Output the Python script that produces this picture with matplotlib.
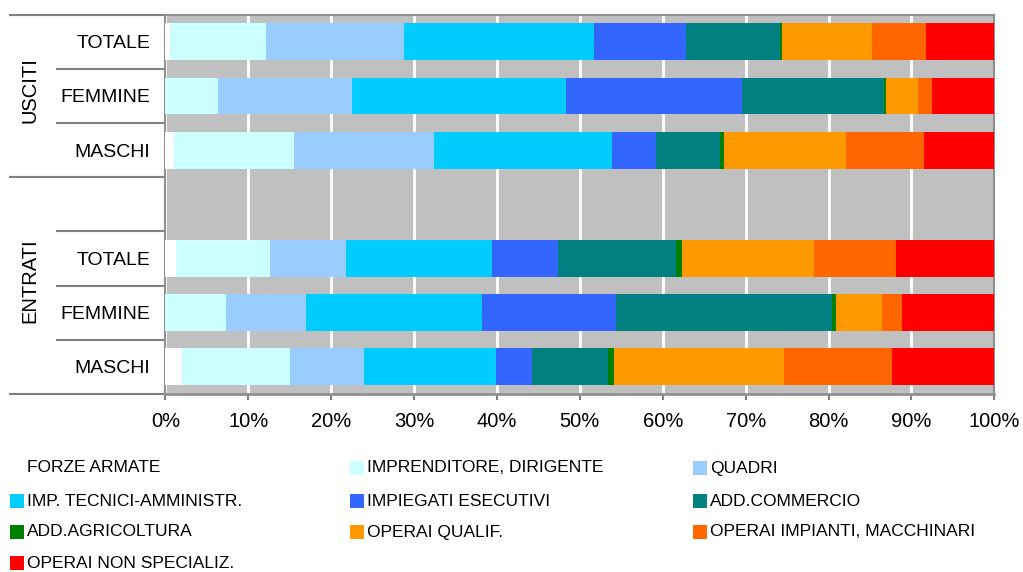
import numpy as np
import matplotlib.pyplot as plt
from matplotlib.patches import Rectangle
from matplotlib.transforms import blended_transform_factory

plt.rcParams['font.family'] = ['Liberation Sans', 'DejaVu Sans']

# rows from bottom to top; the blank row separates the two groups
rows = ["MASCHI", "FEMMINE", "TOTALE", "", "MASCHI", "FEMMINE", "TOTALE"]
groups = ["ENTRATI", "USCITI"]

professions = ["FORZE ARMATE", "IMPRENDITORE, DIRIGENTE", "QUADRI",
               "IMP. TECNICI-AMMINISTR.", "IMPIEGATI ESECUTIVI", "ADD.COMMERCIO",
               "ADD.AGRICOLTURA", "OPERAI QUALIF.", "OPERAI IMPIANTI, MACCHINARI",
               "OPERAI NON SPECIALIZ."]
colors = ["#FFFFFF", "#CCFFFF", "#99CCFF", "#00CCFF", "#3366FF", "#008080",
          "#008000", "#FF9900", "#FF6600", "#FF0000"]

# percentage shares per row (same order as professions)
entrati_maschi  = [2.0, 13.0, 9.0, 15.9, 4.3, 9.2, 0.7, 20.5, 13.0, 12.4]
entrati_femmine = [0.0, 7.3, 9.7, 21.2, 16.2, 26.0, 0.5, 5.5, 2.4, 11.2]
entrati_totale  = [1.3, 11.3, 9.2, 17.6, 8.0, 14.2, 0.7, 16.0, 9.8, 11.9]
usciti_maschi   = [1.0, 14.5, 16.9, 21.5, 5.3, 7.7, 0.5, 14.7, 9.4, 8.5]
usciti_femmine  = [0.0, 6.4, 16.1, 25.8, 21.3, 17.1, 0.2, 3.9, 1.7, 7.5]
usciti_totale   = [0.6, 11.6, 16.6, 22.9, 11.1, 11.3, 0.3, 10.8, 6.6, 8.2]

blank = [0.0] * len(professions)
table = np.array([entrati_maschi, entrati_femmine, entrati_totale, blank,
                  usciti_maschi, usciti_femmine, usciti_totale], dtype=float)
# normalise each row to 100%
sums = table.sum(axis=1, keepdims=True)
sums[sums == 0] = 1
shares = table / sums

fig = plt.figure(figsize=(10.23, 5.72), dpi=100)
ax = fig.add_axes([0.1616, 0.3112, 0.8104, 0.6631])
ax.set_facecolor("#C0C0C0")

y = np.arange(len(rows))
left = np.zeros(len(rows))
for j, name in enumerate(professions):
    ax.barh(y, shares[:, j], left=left, height=0.68, color=colors[j],
            linewidth=0, zorder=3)
    left += shares[:, j]

ax.set_xlim(0, 1)
ax.set_ylim(-0.5, len(rows) - 0.5)
ax.set_xticks(np.arange(0, 1.01, 0.1))
ax.set_xticklabels([f"{int(round(v * 100))}%" for v in np.arange(0, 1.01, 0.1)],
                   fontsize=14.5)
ax.set_yticks(y)
ax.set_yticklabels(rows, fontsize=14)
ax.tick_params(axis="x", direction="out", length=4, width=1.5,
               color="#808080", pad=9)
ax.tick_params(axis="y", length=0, pad=11)
ax.grid(axis="x", color="white", linewidth=2, zorder=1)
ax.set_axisbelow(True)
for side in ["left", "bottom", "top", "right"]:
    ax.spines[side].set_color("#909090")
    ax.spines[side].set_linewidth(1.5)
ax.spines["bottom"].set_linewidth(2)

# category separators to the left of the axis
trans = blended_transform_factory(ax.transAxes, ax.transData)
for b in np.arange(-0.5, len(rows), 1.0):
    outer = b in (-0.5, 3.5, len(rows) - 0.5)
    x0 = -0.187 if outer else -0.131
    ax.plot([x0, 0], [b, b], color="#808080", linewidth=1.5,
            transform=trans, clip_on=False)

# group labels
ax.text(-0.163, 1.6, groups[0], rotation=90, ha="center", va="center",
        fontsize=14.5, transform=trans)
ax.text(-0.163, 5.1, groups[1], rotation=90, ha="center", va="center",
        fontsize=14.5, transform=trans)

# legend laid out in three equal columns
W, H = 1023, 572
col_x = [10, 350, 693]
row_y = [468, 501, 532, 563]
for i, (name, c) in enumerate(zip(professions, colors)):
    cx = col_x[i % 3]
    cy = row_y[i // 3]
    fig.add_artist(Rectangle(((cx) / W, 1 - (cy + 7) / H), 14 / W, 14 / H,
                             transform=fig.transFigure, facecolor=c,
                             edgecolor="none"))
    fig.text((cx + 17) / W, 1 - cy / H, name, ha="left", va="center",
             fontsize=12.5)

fig.savefig("out.png", dpi=100)
